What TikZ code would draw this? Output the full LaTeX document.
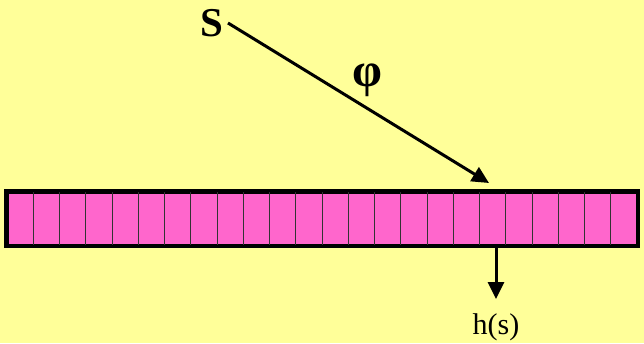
\documentclass[tikz,border=0pt]{standalone}
\usepackage{fontspec}
\setmainfont{Liberation Serif}
\usetikzlibrary{arrows.meta}
\definecolor{bgyellow}{HTML}{FFFF99}
\definecolor{cellpink}{HTML}{FF66CC}
\begin{document}
\begin{tikzpicture}[x=1pt,y=-1pt,
  conn/.style={line width=3pt,-{Triangle[length=17pt,width=16pt]}},
  celline/.style={line width=1pt,black!80},
  barbox/.style={draw,line width=3pt,fill=cellpink,inner sep=0pt,minimum width=630pt,minimum height=53pt},
  lbl/.style={inner sep=0pt}]
\fill[bgyellow] (0,0) rectangle (644,343);
\useasboundingbox (0,0) rectangle (644,343);
\node[barbox] (bar) at (322,218.5) {};
\foreach \i in {1,...,23} {
  \pgfmathsetmacro{\xx}{7+\i*26.25}
  \draw[celline] (\xx,192) -- (\xx,245);
}
\draw[line width=3pt] (bar.north west) rectangle (bar.south east);
\node[lbl,font=\bfseries\fontsize{41}{41}\selectfont] (S) at (212,23) {S};
\node[lbl,font=\bfseries\fontsize{48}{48}\selectfont] (phi) at (367,80) {φ};
\node[lbl,font=\fontsize{30}{30}\selectfont] (h) at (496,327) {h(s)};
\coordinate (sstart) at (228,23);
\coordinate (hit) at (489,183);
\coordinate (out) at (496,245);
\coordinate (down) at (496,299);
\draw[conn] (sstart) -- (hit);
\draw[conn] (out) -- (down);
\end{tikzpicture}
\end{document}
